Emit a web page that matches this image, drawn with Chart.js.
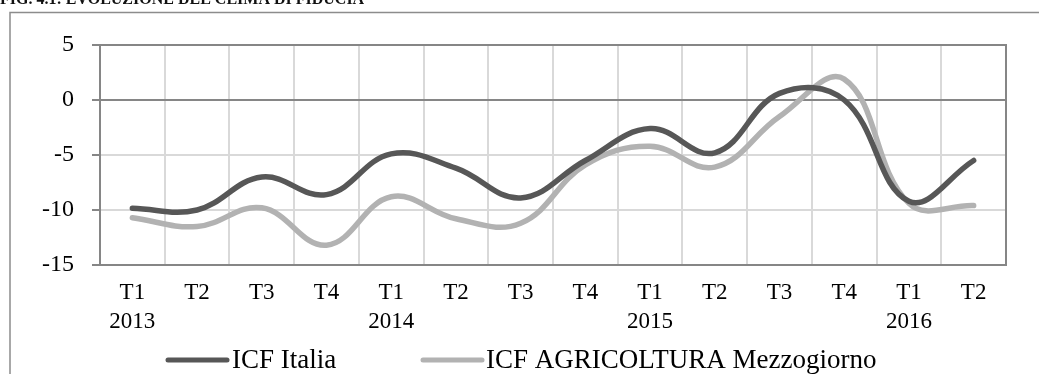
<!DOCTYPE html>
<html>
<head>
<meta charset="utf-8">
<script src="https://cdn.jsdelivr.net/npm/chart.js@4/dist/chart.umd.min.js"></script>
<style>
  html, body { margin: 0; padding: 0; background: #ffffff; }
  #wrap { width: 1039px; height: 374px; position: relative; overflow: hidden; }
  canvas { display: block; }
</style>
</head>
<body>
<div id="wrap"><canvas id="c" width="1039" height="374"></canvas></div>
<script>
// Quarterly categories (quarter + year on the first quarter of each year)
const quarters = [
  ['T1', '2013'], 'T2', 'T3', 'T4',
  ['T1', '2014'], 'T2', 'T3', 'T4',
  ['T1', '2015'], 'T2', 'T3', 'T4',
  ['T1', '2016'], 'T2'
];

// Confidence climate indexes
const icfItalia = [-9.85, -10.0, -7.0, -8.6, -4.9, -6.2, -8.9, -5.5, -2.6, -4.8, 0.6, 0.0, -9.2, -5.5];
const icfAgriMezzogiorno = [-10.7, -11.5, -9.8, -13.2, -8.8, -10.8, -11.2, -5.9, -4.2, -6.1, -1.5, 1.9, -9.4, -9.6];

const seriesNames = ['ICF Italia', 'ICF AGRICOLTURA Mezzogiorno'];
const yTicks = { min: -15, max: 5, step: 5 };
const figureTitle = 'FIG. 4.1: EVOLUZIONE DEL CLIMA DI FIDUCIA';

const SERIF = "'Liberation Serif', 'Times New Roman', serif";
const DARK_AXIS = '#868686';
const LIGHT_GRID = '#d9d9d9';

// Frame, heading strip, plot border and legend
const framePlugin = {
  id: 'frame',
  beforeDraw(chart) {
    const ctx = chart.ctx;
    ctx.save();
    ctx.fillStyle = '#ffffff';
    ctx.fillRect(0, 0, chart.width, chart.height);
    // heading (only its lower edge falls inside the page)
    ctx.fillStyle = '#111111';
    ctx.font = "bold 16px " + SERIF;
    ctx.textBaseline = 'alphabetic';
    ctx.textAlign = 'left';
    ctx.fillText(figureTitle, 0, 4);
    // outer frame
    ctx.strokeStyle = '#8c8c8c';
    ctx.lineWidth = 1.5;
    ctx.beginPath();
    ctx.moveTo(10, chart.height);
    ctx.lineTo(10, 12.5);
    ctx.lineTo(chart.width, 12.5);
    ctx.stroke();
    ctx.restore();
  },
  beforeDatasetsDraw(chart) {
    const { ctx, chartArea: a } = chart;
    ctx.save();
    ctx.strokeStyle = DARK_AXIS;
    ctx.lineWidth = 2;
    ctx.strokeRect(a.left, a.top, a.right - a.left, a.bottom - a.top);
    ctx.restore();
  },
  afterDraw(chart) {
    const ctx = chart.ctx;
    const items = [
      { x: 168, textX: 232 },
      { x: 423, textX: 486 }
    ];
    const y = 360;
    ctx.save();
    chart.data.datasets.forEach((ds, i) => {
      const it = items[i];
      ctx.strokeStyle = ds.borderColor;
      ctx.lineWidth = 5;
      ctx.lineCap = 'round';
      ctx.beginPath();
      ctx.moveTo(it.x, y);
      ctx.lineTo(it.x + 59, y);
      ctx.stroke();
      ctx.fillStyle = '#000000';
      ctx.font = "27px " + SERIF;
      ctx.textBaseline = 'middle';
      ctx.textAlign = 'left';
      ctx.fillText(ds.label, it.textX, y + 1);
    });
    ctx.restore();
  }
};

new Chart(document.getElementById('c'), {
  type: 'line',
  data: {
    labels: quarters,
    datasets: [
      {
        label: seriesNames[0],
        data: icfItalia,
        borderColor: '#575757',
        backgroundColor: '#575757',
        borderWidth: 5.5,
        borderCapStyle: 'round',
        borderJoinStyle: 'round',
        pointRadius: 0,
        tension: 0.4,
        fill: false
      },
      {
        label: seriesNames[1],
        data: icfAgriMezzogiorno,
        borderColor: '#b2b2b2',
        backgroundColor: '#b2b2b2',
        borderWidth: 5.5,
        borderCapStyle: 'round',
        borderJoinStyle: 'round',
        pointRadius: 0,
        tension: 0.4,
        fill: false
      }
    ]
  },
  options: {
    responsive: false,
    animation: false,
    devicePixelRatio: 1,
    layout: { padding: { left: 10, top: 45, right: 33, bottom: 0 } },
    plugins: {
      legend: { display: false },
      tooltip: { enabled: false }
    },
    scales: {
      x: {
        type: 'category',
        offset: true,
        grid: {
          offset: true,
          color: LIGHT_GRID,
          lineWidth: 2,
          drawTicks: false
        },
        border: { display: false },
        ticks: {
          color: '#000000',
          font: { family: SERIF, size: 23, lineHeight: 1.27 },
          padding: 13,
          maxRotation: 0,
          autoSkip: false
        },
        afterFit(scale) { scale.height = 109; }
      },
      y: {
        min: yTicks.min,
        max: yTicks.max,
        grid: {
          color: (c) => (c.tick && c.tick.value === 0) ? DARK_AXIS : LIGHT_GRID,
          lineWidth: 2,
          drawTicks: true,
          tickLength: 8,
          tickColor: DARK_AXIS,
          tickWidth: 2
        },
        border: { display: true, color: DARK_AXIS, width: 2 },
        ticks: {
          stepSize: yTicks.step,
          color: '#000000',
          font: { family: SERIF, size: 24 },
          padding: 18
        },
        afterFit(scale) { scale.width = 90; }
      }
    }
  },
  plugins: [framePlugin]
});
</script>
</body>
</html>
